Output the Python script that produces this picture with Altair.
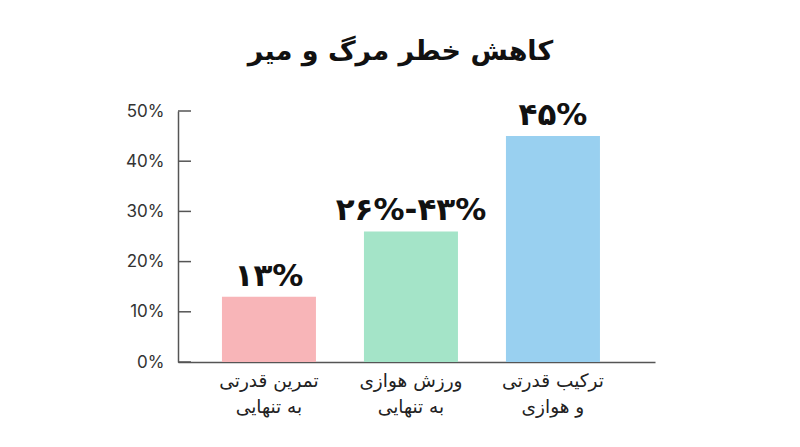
import altair as alt
import pandas as pd

categories = ["تمرین قدرتی\nبه تنهایی", "ورزش هوازی\nبه تنهایی", "ترکیب قدرتی\nو هوازی"]
values = [13, 26, 45]
value_labels = ["۱۳%", "۲۶%-۴۳%", "۴۵%"]
colors = ["#F8B5B8", "#A4E4C8", "#99D0F0"]
tick_values = [0, 10, 20, 30, 40, 50]

df = pd.DataFrame({"cat": categories, "value": values, "label": value_labels, "color": colors})
ticks_df = pd.DataFrame({"t": tick_values})

x_scale = alt.Scale(paddingInner=0.338, paddingOuter=0.3486, align=0.444)
x_enc = alt.X("cat:N", sort=categories, title=None, scale=x_scale,
              axis=alt.Axis(labelExpr="split(datum.label, '\\n')", labelAngle=0,
                            labelFont="DejaVu Sans", labelFontSize=18.5, labelColor="#222",
                            labelLineHeight=26, labelPadding=9, ticks=False,
                            domainColor="#555", domainWidth=1.5, labelBaseline="top"))
y_scale = alt.Scale(domain=[0, 50])

bars = alt.Chart(df).mark_bar(opacity=1).encode(
    x=x_enc,
    y=alt.Y("value:Q", scale=y_scale, title=None,
            axis=alt.Axis(values=tick_values, labelExpr="datum.value + '%'", grid=False,
                          tickSize=0, labelPadding=14, labelFont="Inter", labelFontSize=17,
                          labelColor="#333", domainColor="#555", domainWidth=1.5)),
    color=alt.Color("color:N", scale=None),
)

texts = alt.Chart(df).mark_text(baseline="alphabetic", dy=-11, font="DejaVu Sans",
                                fontWeight="bold", fontSize=31, color="#111").encode(
    x=alt.X("cat:N", sort=categories, scale=x_scale),
    y=alt.Y("value:Q", scale=y_scale),
    text="label:N",
)

ticks = alt.Chart(ticks_df).mark_rule(color="#555", strokeWidth=1.5).encode(
    x=alt.value(0), x2=alt.value(13),
    y=alt.Y("t:Q", scale=y_scale),
)

chart = alt.layer(bars, texts, ticks).properties(
    width=477, height=251,
    autosize=alt.AutoSizeParams(type="none"),
    padding={"left": 170, "top": 103, "right": 137, "bottom": 77},
    background="white",
    title=alt.TitleParams("کاهش خطر مرگ و میر", font="DejaVu Sans", fontSize=27,
                          fontWeight="bold", color="#111", anchor="middle",
                          dx=-16, offset=34),
).configure_view(stroke=None)

chart.save("out.html", embed_options={"renderer": "svg", "actions": False})
